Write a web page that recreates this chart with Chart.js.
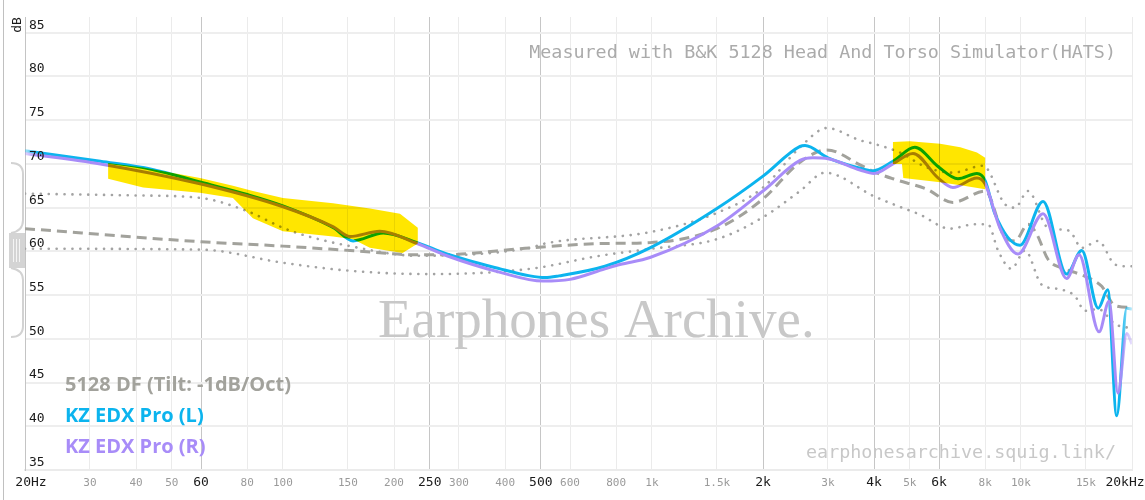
<!DOCTYPE html>
<html><head><meta charset="utf-8">
<script src="https://cdn.jsdelivr.net/npm/chart.js@4.4.1/dist/chart.umd.min.js"></script>
<style>html,body{margin:0;padding:0;background:#fff;}#wrap{position:relative;width:1145px;height:500px;}</style>
</head><body><div id="wrap"><canvas id="c"></canvas></div>
<script>
// ---- tick labels ----
const xTickValues = [20,30,40,50,60,80,100,150,200,250,300,400,500,600,800,1000,1500,2000,3000,4000,5000,6000,8000,10000,15000,20000];
const xTickLabels = ['20Hz','30','40','50','60','80','100','150','200','250','300','400','500','600','800','1k','1.5k','2k','3k','4k','5k','6k','8k','10k','15k','20kHz'];
const xMajorTicks = [20,60,250,500,2000,4000,6000,20000];
const yTickValues = [35,40,45,50,55,60,65,70,75,80,85];
const seriesNames = ['5128 DF (Tilt: -1dB/Oct)','KZ EDX Pro (L)','KZ EDX Pro (R)'];

// ---- series ----
const leftFreq = [20,32,44,60,80,100,137,155,187,231,278,388,467,513,560,746,988,1500,2000,2520,2600,3000,3664,3950,4500,5160,5960,6750,7600,8000,8500,9940,11480,13300,14620,16200,17190,18180,19360,20000];
const leftDb   = [71.5,70.3,69.4,67.9,66.5,65.2,62.7,61.2,62.1,61.0,59.7,58.0,57.2,57.0,57.2,58.3,60.4,64.9,68.6,72.0,72.1,70.7,69.5,69.2,70.3,71.9,69.7,68.3,68.9,68.1,64.3,60.7,65.7,57.4,60.1,53.5,55.6,41.2,53.5,53.4];

const rightFreq = [20,32,60,100,137,152,183,231,278,388,507,600,746,819,988,1500,2000,2520,2730,3000,3664,4000,4500,5100,5960,6540,7600,8000,8770,9820,11480,13300,14370,16290,17330,18320,19360,20000];
const rightDb   = [71.2,70.0,67.7,65.1,62.8,61.7,62.3,60.9,59.5,57.6,56.6,56.8,58.0,58.5,59.3,62.9,66.9,70.4,70.7,70.6,69.3,68.9,70.0,71.2,68.4,67.3,68.4,67.7,62.7,59.7,64.3,56.9,59.6,50.8,54.3,43.8,50.6,49.4];

const targetFreq = [20,60,100,152,235,267,467,746,988,1500,2000,2520,2980,3664,4000,4500,5560,6540,8000,9050,9640,10450,11030,11840,12900,14000,15550,16560,17990,19750,20000];
const targetDb   = [62.6,61.1,60.6,60.1,59.6,59.6,60.4,60.9,61.0,62.6,66.0,70.2,71.6,69.9,69.1,68.3,67.1,65.6,66.9,61.6,61.2,63.1,62.0,59.1,58.1,57.6,56.8,56.0,53.8,53.6,53.6];

const upperFreq = [20,39,60,80,100,111,152,231,467,513,988,1500,2000,2520,2980,3664,4000,4700,5560,6540,7900,9050,9640,10450,11840,12900,13580,14620,16200,17990,19360,20000];
const upperDb   = [66.6,66.4,66.1,64.6,62.7,62.0,60.6,59.5,60.4,60.9,62.2,64.4,67.3,71.9,74.1,72.7,72.3,71.3,69.6,69.0,69.8,65.4,65.0,66.9,62.7,62.5,62.3,60.4,61.2,58.5,58.3,58.3];

const lowerFreq = [20,60,100,150,250,467,723,1000,1500,2000,2520,2944,4000,4500,5330,6420,7500,8140,8670,9420,10260,11380,12600,14000,14920,16200,17990,19540,20000];
const lowerDb   = [60.3,60.2,58.7,57.8,57.4,58.0,59.5,60.3,61.4,63.9,66.9,69.0,66.3,65.4,64.2,62.6,63.1,63.1,60.1,58.0,60.1,56.2,55.7,54.9,53.2,53.4,51.7,51.3,51.3];

// ---- highlighted bands ----
const bassTopFreq = [33.6,41.8,59.6,73.2,82.9,100,136.7,172,207.6,232];
const bassTopDb   = [70.1,69.6,68.4,67.5,66.9,66.1,65.5,64.9,64.3,62.7];
const bassBottomFreq = [33.6,41.8,59.6,73.2,82.9,100,136.7,155,172,211,232];
const bassBottomDb   = [68.3,67.3,66.7,66.1,63.8,62.3,61.7,61.4,60.4,59.8,60.9];
const trebleTopFreq = [4500,5000,6040,6850,7600,8000];
const trebleTopDb   = [72.5,72.6,72.3,71.9,71.3,70.7];
const trebleBottomFreq = [4500,4760,4800,6040,7000,8000];
const trebleBottomDb   = [70.0,70.0,68.4,67.9,67.5,67.1];

const toXY = (fs, vs) => fs.map((f, i) => ({x: f, y: vs[i]}));
const bands = [
  {tf: bassTopFreq, tv: bassTopDb, bf: bassBottomFreq, bv: bassBottomDb},
  {tf: trebleTopFreq, tv: trebleTopDb, bf: trebleBottomFreq, bv: trebleBottomDb}
];

const BLUE = '12,180,238', PURPLE = '168,140,248';
const legendColors = ['#a2a29c', 'rgb(' + BLUE + ')', 'rgb(' + PURPLE + ')'];

function fade(rgb) {
  return (c) => {
    const ch = c.chart, a = ch.chartArea;
    if (!a) return 'rgb(' + rgb + ')';
    const w = a.right - a.left;
    const g = ch.ctx.createLinearGradient(a.left, 0, a.right, 0);
    g.addColorStop(0, 'rgba(' + rgb + ',0.35)');
    g.addColorStop(12 / w, 'rgba(' + rgb + ',1)');
    g.addColorStop(1 - 12 / w, 'rgba(' + rgb + ',1)');
    g.addColorStop(1, 'rgba(' + rgb + ',0.25)');
    return g;
  };
}

const MONO = '"DejaVu Sans Mono", monospace';

const decorPlugin = {
  id: 'decor',
  beforeDraw(chart) {
    const ctx = chart.ctx;
    ctx.save();
    ctx.fillStyle = '#fff';
    ctx.fillRect(0, 0, chart.width, chart.height);
    ctx.strokeStyle = '#c0c0c0'; ctx.lineWidth = 1;
    ctx.beginPath(); ctx.moveTo(3.5, 0); ctx.lineTo(3.5, chart.height); ctx.stroke();
    ctx.restore();
  },
  beforeDatasetsDraw(chart) {
    const ctx = chart.ctx;
    ctx.save();
    ctx.fillStyle = '#c8c8c8';
    ctx.font = '55px "Liberation Serif", serif';
    ctx.textBaseline = 'alphabetic'; ctx.textAlign = 'left';
    ctx.fillText('Earphones Archive.', 378, 337);
    ctx.font = '18.4px ' + MONO;
    ctx.textAlign = 'right'; ctx.textBaseline = 'middle';
    ctx.fillStyle = '#ababab';
    ctx.fillText('Measured with B&K 5128 Head And Torso Simulator(HATS)', 1116, 53);
    ctx.fillStyle = '#c8c8c8';
    ctx.fillText('earphonesarchive.squig.link/', 1116, 453);
    ctx.restore();
  },
  afterDatasetsDraw(chart) {
    const {ctx, chartArea: a, scales: {x, y}} = chart;
    ctx.save();
    ctx.beginPath(); ctx.rect(a.left, a.top, a.right - a.left, a.bottom - a.top); ctx.clip();
    ctx.globalCompositeOperation = 'multiply';
    ctx.fillStyle = '#ffe600';
    for (const b of bands) {
      ctx.beginPath();
      b.tf.forEach((f, i) => {
        const px = x.getPixelForValue(f), py = y.getPixelForValue(b.tv[i]);
        i ? ctx.lineTo(px, py) : ctx.moveTo(px, py);
      });
      for (let i = b.bf.length - 1; i >= 0; i--) ctx.lineTo(x.getPixelForValue(b.bf[i]), y.getPixelForValue(b.bv[i]));
      ctx.closePath(); ctx.fill();
    }
    ctx.restore();
  },
  afterDraw(chart) {
    const {ctx, chartArea: a, scales: {x, y}} = chart;
    ctx.save();
    ctx.textBaseline = 'middle';
    xTickValues.forEach((v, i) => {
      const major = xMajorTicks.includes(v);
      ctx.font = (major ? '13px ' : '11px ') + MONO;
      ctx.fillStyle = major ? '#1a1a1a' : '#9a9a9a';
      let px = x.getPixelForValue(v);
      ctx.textAlign = 'center';
      if (i === 0) px += 6;
      if (i === xTickValues.length - 1) px -= 7;
      ctx.fillText(xTickLabels[i], px, a.bottom + 13);
    });
    ctx.font = '13px ' + MONO; ctx.fillStyle = '#1a1a1a'; ctx.textAlign = 'left';
    yTickValues.forEach(v => ctx.fillText(String(v), a.left + 4, y.getPixelForValue(v) - 7.5));
    ctx.save(); ctx.translate(18, 25); ctx.rotate(-Math.PI / 2);
    ctx.textAlign = 'center'; ctx.fillText('dB', 0, 0); ctx.restore();
    ctx.strokeStyle = '#d2d2d2'; ctx.lineWidth = 2;
    ctx.beginPath();
    ctx.moveTo(11, 163); ctx.quadraticCurveTo(23, 163, 23, 174); ctx.lineTo(23, 220);
    ctx.quadraticCurveTo(23, 231, 11, 233);
    ctx.moveTo(11, 268); ctx.quadraticCurveTo(23, 270, 23, 280); ctx.lineTo(23, 326);
    ctx.quadraticCurveTo(23, 337, 11, 337);
    ctx.stroke();
    ctx.fillStyle = '#d4d4d4'; ctx.fillRect(9, 233, 16, 35);
    ctx.strokeStyle = '#f4f4f4'; ctx.lineWidth = 1;
    [13.5, 16.5, 19.5].forEach(xx => { ctx.beginPath(); ctx.moveTo(xx, 239); ctx.lineTo(xx, 262); ctx.stroke(); });
    ctx.font = 'bold 20px "Open Sans", sans-serif'; ctx.textAlign = 'left'; ctx.textBaseline = 'middle';
    seriesNames.forEach((n, i) => { ctx.fillStyle = legendColors[i]; ctx.fillText(n, 65, 385 + i * 31); });
    ctx.restore();
  }
};

const common = {pointRadius: 0, fill: false, cubicInterpolationMode: 'monotone', spanGaps: true};

new Chart(document.getElementById('c'), {
  type: 'line',
  data: {
    datasets: [
      {...common, label: seriesNames[2], data: toXY(rightFreq, rightDb), borderColor: fade(PURPLE), borderWidth: 3},
      {...common, label: seriesNames[1], data: toXY(leftFreq, leftDb), borderColor: fade(BLUE), borderWidth: 3},
      {...common, label: seriesNames[0], data: toXY(targetFreq, targetDb), borderColor: '#a2a29c', borderWidth: 3, borderDash: [10, 6]},
      {...common, label: 'upper', data: toXY(upperFreq, upperDb), borderColor: '#a3a3a3', borderWidth: 2.6, borderDash: [0.1, 7.8], borderCapStyle: 'round'},
      {...common, label: 'lower', data: toXY(lowerFreq, lowerDb), borderColor: '#a3a3a3', borderWidth: 2.6, borderDash: [0.1, 7.8], borderCapStyle: 'round'}
    ]
  },
  options: {
    responsive: true, maintainAspectRatio: false, animation: false, devicePixelRatio: 1,
    layout: {padding: {left: 25, right: 13, top: 17, bottom: 30}},
    plugins: {legend: {display: false}, tooltip: {enabled: false}},
    scales: {
      x: {
        type: 'logarithmic', min: 20, max: 20000,
        afterBuildTicks: s => { s.ticks = xTickValues.map(v => ({value: v})); },
        ticks: {display: false},
        grid: {drawTicks: false, color: c => (xMajorTicks.includes(c.tick && c.tick.value) && c.tick.value !== 20 && c.tick.value !== 20000) ? '#c6c6c6' : '#ebebeb', lineWidth: 1},
        border: {display: true, color: '#ebebeb', width: 2}
      },
      y: {
        type: 'linear', min: 35, max: 86.8,
        afterBuildTicks: s => { s.ticks = yTickValues.map(v => ({value: v})); },
        ticks: {display: false},
        grid: {drawTicks: false, color: '#eeeeee', lineWidth: 2},
        border: {display: true, color: '#c4c4c4', width: 1}
      }
    }
  },
  plugins: [decorPlugin]
});
</script></body></html>
